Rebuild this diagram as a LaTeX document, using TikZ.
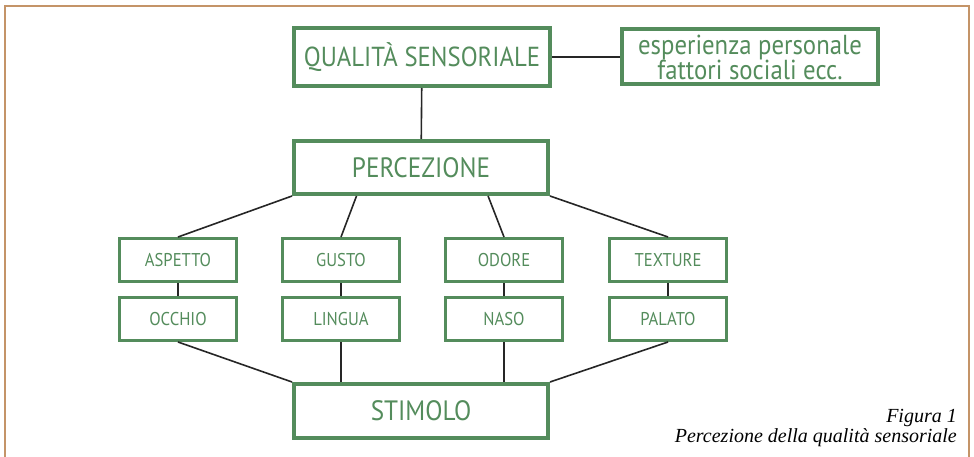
\documentclass[tikz,border=0pt]{standalone}
\usepackage{fontspec}
\newfontfamily\boxfont[FakeStretch=0.9]{PT Sans}
\newfontfamily\capfont{Liberation Serif}
\usetikzlibrary{calc,positioning}
\definecolor{figgreen}{RGB}{84,140,92}
\definecolor{frametan}{RGB}{196,148,104}

\begin{document}
\begin{tikzpicture}[x=1pt, y=-1pt,
    bigbox/.style={draw=figgreen, line width=4pt, text=figgreen, minimum width=256pt, minimum height=56pt, inner sep=0pt, font=\boxfont\fontsize{28}{30}\selectfont},
    smallbox/.style={draw=figgreen, line width=3pt, text=figgreen, minimum width=117pt, minimum height=43pt, inner sep=0pt, font=\boxfont\fontsize{18.5}{20}\selectfont},
    link/.style={draw=black!85, line width=1.6pt}]
    \useasboundingbox (0,0) rectangle (974,457);
    % cornice
    \draw[frametan, line width=1.5pt] (5,460) -- (5,6) -- (969,6) -- (969,460);

    \node[bigbox, minimum height=58pt, font=\boxfont\fontsize{27.5}{30}\selectfont] (qual) at (422,57) {QUALITÀ SENSORIALE};
    \node[bigbox, minimum height=55pt, align=center, font=\boxfont\fontsize{27.5}{25}\selectfont] (esper) at (750,57) {esperienza personale\\fattori sociali ecc.};
    \node[bigbox, minimum height=53pt, minimum width=254pt] (perc) at (421,167.5) {PERCEZIONE};
    \node[bigbox, minimum height=54pt, minimum width=254pt] (stim) at (421,411) {STIMOLO};

    \node[smallbox] (aspetto) at (178,260) {ASPETTO};
    \node[smallbox] (gusto) at (341,260) {GUSTO};
    \node[smallbox] (odore) at (504,260) {ODORE};
    \node[smallbox] (texture) at (668,260) {TEXTURE};
    \node[smallbox, below=13pt of aspetto] (occhio) {OCCHIO};
    \node[smallbox, below=13pt of gusto] (lingua) {LINGUA};
    \node[smallbox, below=13pt of odore] (naso) {NASO};
    \node[smallbox, below=13pt of texture] (palato) {PALATO};

    \draw[link] (qual) -- (perc);
    \draw[link] (qual) -- (esper);

    \draw[link] (perc.south west) -- (aspetto.north);
    \draw[link] ($(perc.south west)!0.25!(perc.south east)$) -- (gusto.north);
    \draw[link] ($(perc.south west)!0.76!(perc.south east)$) -- (odore.north);
    \draw[link] (perc.south east) -- (texture.north);

    \draw[link] (aspetto) -- (occhio);
    \draw[link] (gusto) -- (lingua);
    \draw[link] (odore) -- (naso);
    \draw[link] (texture) -- (palato);

    \draw[link] (occhio.south) -- (stim.north west);
    \draw[link] (lingua.south) -- (lingua.south |- stim.north);
    \draw[link] (naso.south) -- (naso.south |- stim.north);
    \draw[link] (palato.south) -- (stim.north east);

    \node[anchor=south east, align=right, inner sep=0pt, font=\capfont\itshape\fontsize{20}{20}\selectfont] (didascalia) at (957,447) {Figura 1\\Percezione della qualità sensoriale};
\end{tikzpicture}
\end{document}
